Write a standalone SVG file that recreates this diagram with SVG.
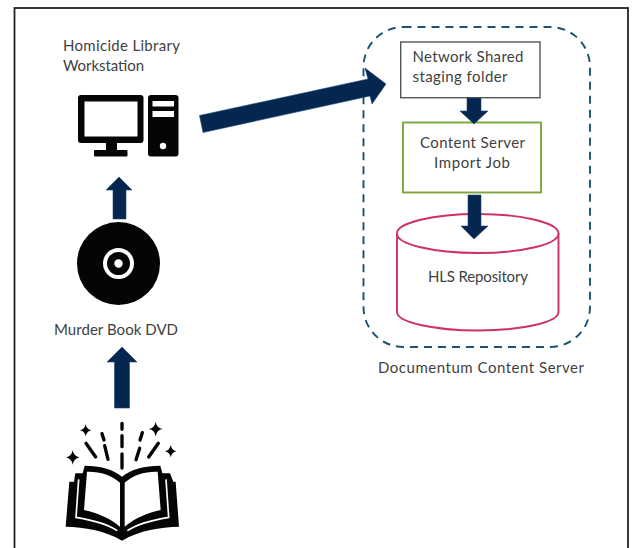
<svg xmlns="http://www.w3.org/2000/svg" width="633" height="548" viewBox="0 0 633 548">
<style>
text{font-family:"Lato","Liberation Sans",sans-serif;font-size:15px;fill:#3f3f3f}
.arrow{fill:#04264f;stroke:#1f4a73;stroke-width:.6}
.ink{fill:#050505}
.hole{fill:#fff}
.dash{stroke:#050505;stroke-width:10;stroke-linecap:round;fill:none}
</style>
<rect width="633" height="548" fill="#fff"/>
<rect id="frame" x="14.500" y="8" width="613.500" height="560" fill="none" stroke="#222" stroke-width="1.800"/>
<g id="documentum-content-server">
<rect x="363.500" y="27" width="226.500" height="320" rx="40" ry="40" fill="none" stroke="#1d526f" stroke-width="1.900" stroke-dasharray="8 6"/>
<text x="378" y="373" textLength="206" lengthAdjust="spacing">Documentum Content Server</text>
</g>
<g id="staging-folder">
<rect x="400.700" y="42" width="139.300" height="55.700" fill="#fff" stroke="#555" stroke-width="1.400"/>
<text x="412.500" y="62" textLength="111" lengthAdjust="spacing">Network Shared</text>
<text x="412.500" y="82" textLength="95" lengthAdjust="spacing">staging folder</text>
</g>
<g id="import-job">
<rect x="403" y="122.500" width="138" height="70" fill="#fff" stroke="#7aa63c" stroke-width="1.900"/>
<text x="420" y="148" textLength="105" lengthAdjust="spacing">Content Server</text>
<text x="434" y="168" textLength="76" lengthAdjust="spacing">Import Job</text>
</g>
<g id="hls-repository">
<path d="M397 233V312C397 322 433 330.500 478 330.500S558.500 322 558.500 312V233" fill="#fff" stroke="#cf2f6b" stroke-width="1.900"/>
<ellipse cx="477.700" cy="233.500" rx="80.800" ry="19.500" fill="#fff" stroke="#cf2f6b" stroke-width="1.900"/>
<text x="428" y="282" textLength="100" lengthAdjust="spacing">HLS Repository</text>
</g>
<g id="workstation">
<text x="63" y="51" textLength="117" lengthAdjust="spacing">Homicide Library</text>
<text x="63" y="71" textLength="81" lengthAdjust="spacing">Workstation</text>
<rect class="ink" x="78" y="95" width="65.500" height="48" rx="3"/>
<rect class="hole" x="84.500" y="101.500" width="53" height="35"/>
<rect class="ink" x="106" y="143" width="11" height="8"/>
<rect class="ink" x="94" y="150" width="33.500" height="6.500" rx="1"/>
<rect class="ink" x="148" y="95" width="30.500" height="61.500" rx="3"/>
<rect class="hole" x="152.500" y="101" width="21.500" height="5.500"/>
<rect class="hole" x="152.500" y="111" width="21.500" height="6"/>
<circle class="hole" cx="163" cy="146" r="3.200"/>
</g>
<g id="murder-book-dvd">
<circle class="ink" cx="118.500" cy="263.500" r="41.500"/>
<circle class="hole" cx="118.500" cy="263.500" r="15.500"/>
<circle class="ink" cx="118.500" cy="263.500" r="11.500"/>
<circle class="hole" cx="118.500" cy="263.500" r="4.200"/>
<text x="54" y="335" textLength="124" lengthAdjust="spacing">Murder Book DVD</text>
</g>
<g id="book" transform="translate(0,300) scale(.33333)">
<path class="ink" d="M197 680L208 545H222L226 520H248L254 497C300 497 340 508 366 530C392 508 434 497 481 497L487 520H510L520 545H527L537 680C480 682 420 690 366 722C312 690 254 682 197 680Z"/>
<path class="hole" d="M261 515L252 630C295 640 330 655 360 680V548C335 525 300 514 261 515Z"/>
<path class="hole" d="M473 515L482 630C439 640 404 655 374 680V548C399 525 434 514 473 515Z"/>
<path d="M236 538L228 652C275 660 320 670 352 692M498 538L506 652C459 660 414 670 382 692" fill="none" stroke="#fff" stroke-width="5"/>
<path class="ink" d="M257 373Q260 388 274 391Q260 394 257 409Q254 394 240 391Q254 388 257 373ZM467 365Q470 384 488 387Q470 390 467 409Q464 390 446 387Q464 384 467 365ZM218 451Q221 469 239 472Q221 476 218 494Q215 476 198 472Q215 469 218 451ZM512 435Q515 451 529 454Q515 457 512 472Q509 457 495 454Q509 451 512 435Z"/>
<path class="dash" d="M366 370V388M366 407V440M366 462V504M306 401L312 420M258 430L287 471M314 437L324 478M427 398L420 420M475 430L446 471M419 445L408 479"/>
</g>
<g id="connectors">
<polygon class="arrow" points="113,219 113,190 106,190 119,177 132,190 126,190 126,219"/>
<polygon class="arrow" points="114.500,408 114.500,362 107,362 122,347 137,362 129.500,362 129.500,408"/>
<polygon class="arrow" points="199.500,115.500 368,79 365,68 386,84 372,104 370,96 203,132.500"/>
<polygon class="arrow" points="467,98 481,98 481,111 488,111 474,124 460,111 467,111"/>
<polygon class="arrow" points="468,195 481,195 481,226 488,226 474,239 461,226 468,226"/>
</g>
</svg>
